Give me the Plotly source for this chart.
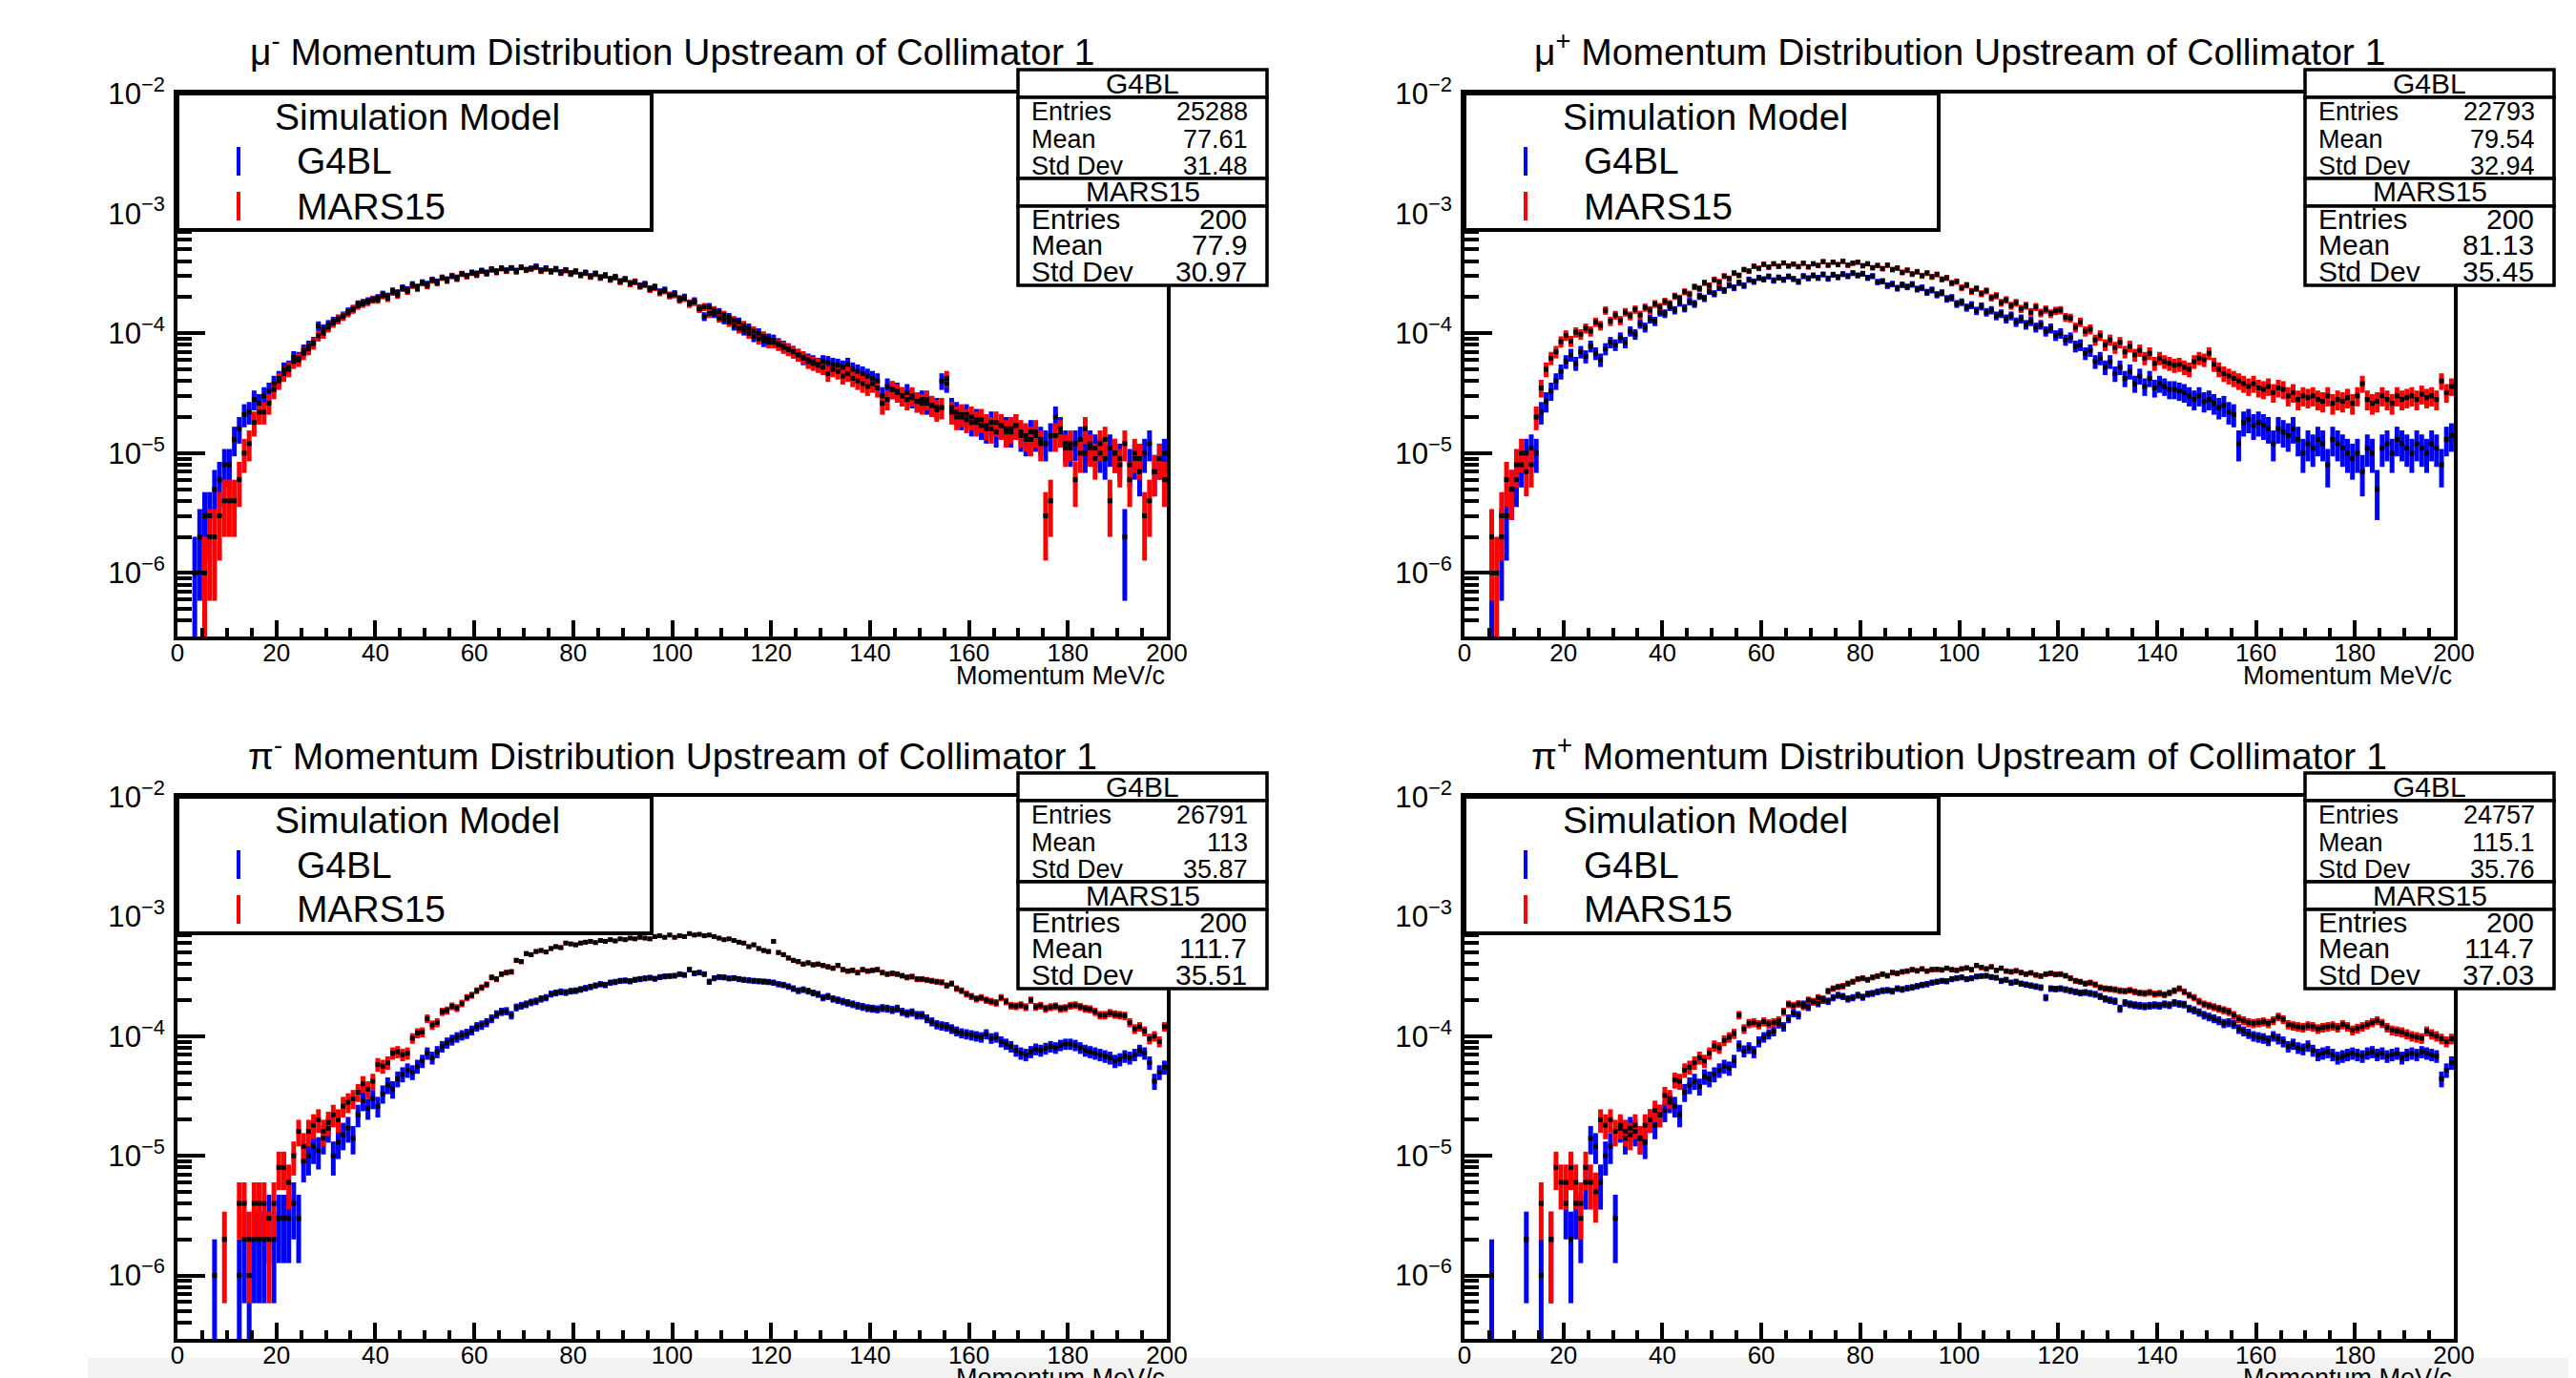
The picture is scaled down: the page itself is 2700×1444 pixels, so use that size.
import math
import plotly.graph_objects as go

# ---------------- data (bin contents in units of 1e-6, bins of 1 MeV/c from 0 to 200) ----------------
BIN_CENTERS = [i + 0.5 for i in range(200)]
UNIT = 1e-6
COUNT_WEIGHT = 1.0  # weight of one entry in the same units (Poisson errors)

MU_MINUS_G4BL = [
    0, 0, 0, 1, 2, 3, 3, 5, 6, 8, 8, 13, 16, 21, 22, 28, 26, 30, 33, 38,
    42, 50, 52, 63, 62, 72, 78, 84, 115, 108, 118, 126, 132, 140, 152, 160, 175, 180, 186, 192,
    198, 212, 204, 226, 218, 240, 232, 256, 244, 266, 258, 280, 270, 292, 282, 300, 292, 314, 302, 322,
    316, 334, 322, 344, 330, 350, 336, 352, 334, 356, 340, 348, 362, 336, 350, 330, 346, 324, 338, 318,
    330, 308, 322, 300, 316, 294, 306, 284, 296, 272, 284, 262, 270, 250, 258, 236, 244, 222, 230, 208,
    214, 194, 200, 178, 186, 162, 138, 166, 146, 150, 130, 136, 116, 124, 106, 110, 94, 100, 86, 90,
    88, 82, 78, 74, 70, 66, 62, 60, 58, 55, 58, 57, 55, 54, 52, 55, 50, 48, 46, 44,
    42, 40, 30, 36, 34, 33, 30, 32, 29, 27, 28, 26, 25, 24, 40, 38, 24, 22, 20, 21,
    18, 19, 17, 16, 18, 15, 17, 16, 15, 17, 14, 13, 15, 14, 13, 12, 14, 20, 16, 12,
    11, 12, 13, 10, 12, 11, 10, 9, 11, 10, 9, 2, 8, 9, 7, 10, 12, 7, 9, 10,
]
MU_MINUS_MARS = [
    0, 0, 0, 0, 0, 1, 2, 2, 3, 4, 4, 4, 6, 10, 12, 18, 22, 22, 26, 34,
    40, 46, 50, 58, 60, 68, 74, 82, 95, 100, 112, 122, 130, 138, 148, 158, 170, 176, 182, 190,
    190, 206, 196, 220, 208, 236, 224, 250, 236, 262, 248, 276, 262, 290, 274, 302, 284, 312, 298, 318,
    306, 330, 314, 338, 322, 346, 330, 350, 326, 354, 336, 344, 356, 330, 344, 326, 340, 318, 334, 312,
    326, 304, 318, 296, 312, 290, 302, 280, 292, 268, 282, 258, 268, 246, 254, 232, 240, 218, 226, 206,
    210, 190, 196, 176, 182, 160, 166, 146, 156, 134, 142, 124, 128, 110, 116, 100, 104, 90, 94, 84,
    84, 80, 76, 73, 70, 66, 63, 58, 56, 54, 52, 46, 50, 48, 44, 46, 42, 40, 38, 36,
    38, 35, 26, 28, 34, 32, 30, 28, 30, 27, 26, 28, 25, 23, 24, 42, 22, 20, 21, 19,
    20, 18, 19, 17, 16, 18, 17, 15, 16, 17, 15, 14, 13, 15, 12, 3, 4, 14, 15, 11,
    12, 6, 10, 16, 11, 9, 12, 13, 4, 10, 8, 12, 6, 10, 9, 3, 4, 7, 9, 6,
]
MU_PLUS_G4BL = [
    0, 0, 0, 0, 0, 1, 0, 2, 3, 5, 6, 8, 10, 11, 10, 22, 27, 33, 40, 48,
    58, 66, 56, 70, 64, 78, 68, 60, 74, 84, 80, 92, 84, 104, 98, 120, 112, 132, 126, 150,
    146, 166, 156, 180, 162, 184, 176, 204, 196, 224, 214, 240, 228, 252, 240, 264, 250, 280, 270, 290,
    282, 298, 276, 292, 280, 298, 284, 270, 300, 288, 304, 290, 310, 286, 308, 294, 312, 300, 318, 304,
    314, 290, 300, 268, 272, 250, 258, 238, 254, 244, 256, 234, 240, 220, 230, 210, 218, 194, 198, 176,
    182, 164, 172, 154, 168, 150, 156, 140, 146, 132, 140, 124, 132, 118, 126, 112, 118, 104, 110, 96,
    100, 88, 92, 78, 80, 68, 72, 58, 62, 52, 58, 46, 52, 42, 48, 38, 44, 36, 42, 35,
    38, 36, 34, 34, 33, 32, 30, 28, 30, 27, 28, 26, 24, 25, 22, 21, 12, 18, 19, 17,
    18, 17, 16, 12, 16, 15, 14, 16, 13, 10, 12, 11, 13, 12, 8, 13, 12, 11, 10, 9,
    10, 7, 11, 10, 5, 11, 12, 10, 13, 12, 11, 10, 12, 11, 10, 12, 11, 8, 13, 14,
]
MU_PLUS_MARS = [
    0, 0, 0, 0, 0, 2, 1, 3, 6, 5, 8, 10, 7, 8, 20, 35, 50, 62, 70, 85,
    96, 86, 102, 98, 110, 104, 124, 116, 155, 126, 142, 128, 150, 140, 158, 142, 164, 156, 176, 166,
    184, 176, 204, 196, 222, 212, 244, 236, 264, 250, 280, 268, 300, 286, 318, 304, 340, 330, 362, 348,
    376, 356, 380, 362, 386, 364, 378, 360, 384, 358, 380, 368, 396, 370, 392, 374, 398, 370, 384, 392,
    366, 380, 352, 368, 346, 370, 340, 350, 322, 336, 312, 326, 302, 318, 296, 310, 282, 290, 262, 270,
    240, 252, 224, 236, 214, 226, 198, 206, 180, 190, 170, 180, 160, 170, 150, 166, 148, 158, 146, 154,
    156, 136, 134, 112, 124, 104, 108, 88, 96, 80, 88, 76, 84, 70, 78, 66, 72, 62, 68, 56,
    62, 58, 56, 54, 55, 52, 50, 58, 62, 60, 68, 55, 50, 46, 44, 42, 40, 38, 36, 38,
    35, 34, 36, 32, 35, 34, 30, 32, 28, 30, 29, 30, 28, 27, 30, 26, 28, 27, 29, 26,
    30, 38, 28, 26, 27, 30, 28, 26, 30, 28, 29, 30, 28, 31, 29, 30, 28, 40, 32, 36,
]
PI_MINUS_G4BL = [
    0, 0, 0, 0, 0, 0, 0, 1, 0, 0, 0, 0, 1, 2, 1, 2, 2, 2, 3, 2,
    3, 3, 3, 4, 3, 9, 10, 12, 11, 14, 17, 10, 13, 15, 17, 14, 22, 29, 25, 30,
    26, 33, 39, 36, 44, 48, 52, 50, 56, 62, 72, 66, 74, 82, 88, 93, 98, 102, 105, 112,
    120, 124, 130, 140, 152, 160, 162, 150, 174, 180, 185, 192, 196, 205, 210, 225, 230, 235, 232, 238,
    240, 246, 252, 258, 265, 272, 268, 280, 284, 290, 292, 288, 296, 300, 304, 308, 302, 312, 316, 318,
    320, 330, 325, 360, 335, 340, 330, 285, 305, 312, 310, 304, 306, 300, 296, 293, 290, 288, 286, 284,
    280, 272, 268, 260, 250, 240, 245, 238, 230, 224, 210, 215, 205, 200, 195, 190, 185, 180, 176, 172,
    170, 168, 172, 170, 166, 170, 160, 155, 158, 150, 150, 140, 132, 125, 122, 120, 115, 110, 106, 104,
    102, 100, 98, 104, 96, 98, 90, 86, 82, 76, 72, 70, 74, 78, 76, 79, 82, 80, 84, 86,
    86, 84, 80, 76, 74, 72, 70, 68, 66, 62, 64, 68, 66, 70, 76, 72, 60, 42, 50, 55,
]
PI_MINUS_MARS = [
    0, 0, 0, 0, 0, 0, 0, 0, 0, 2, 0, 0, 4, 4, 2, 4, 4, 4, 2, 4,
    8, 8, 6, 10, 16, 12, 16, 18, 20, 16, 19, 22, 20, 26, 28, 30, 34, 40, 36, 42,
    58, 56, 60, 72, 74, 70, 72, 96, 106, 108, 140, 124, 130, 160, 164, 178, 172, 188, 210, 220,
    240, 255, 270, 310, 300, 330, 340, 345, 430, 420, 490, 480, 510, 520, 505, 540, 560, 550, 600, 590,
    580, 600, 610, 620, 605, 630, 620, 640, 625, 650, 640, 660, 650, 670, 660, 650, 680, 690, 670, 700,
    670, 690, 680, 720, 700, 710, 690, 700, 680, 660, 640, 650, 630, 610, 600, 560, 580, 540, 520, 510,
    620, 500, 480, 450, 430, 420, 400, 410, 395, 400, 390, 380, 370, 390, 360, 350, 355, 340, 360, 350,
    355, 360, 340, 330, 335, 330, 320, 310, 315, 300, 300, 295, 290, 285, 282, 265, 275, 250, 240, 225,
    215, 205, 210, 200, 195, 190, 210, 195, 180, 178, 182, 175, 200, 176, 180, 170, 175, 178, 170, 172,
    180, 182, 176, 170, 168, 160, 150, 150, 156, 152, 150, 148, 130, 115, 120, 110, 95, 100, 90, 120,
]
PI_PLUS_G4BL = [
    0, 0, 0, 0, 0, 1, 0, 0, 0, 0, 0, 0, 2, 0, 0, 1, 0, 2, 0, 0,
    4, 2, 4, 3, 6, 14, 12, 6, 10, 12, 3, 17, 14, 17, 16, 14, 13, 20, 18, 22,
    24, 28, 26, 22, 34, 39, 42, 38, 46, 44, 48, 52, 56, 54, 62, 83, 75, 80, 74, 90,
    98, 104, 110, 127, 120, 140, 156, 150, 185, 175, 194, 188, 200, 196, 210, 220, 215, 205, 210, 220,
    212, 225, 228, 235, 240, 242, 238, 250, 246, 252, 256, 262, 268, 272, 280, 285, 290, 288, 300, 305,
    310, 300, 305, 315, 318, 320, 312, 308, 290, 296, 280, 285, 275, 270, 265, 260, 255, 210, 250, 248,
    250, 245, 240, 235, 230, 232, 228, 224, 215, 205, 200, 196, 170, 190, 185, 182, 180, 178, 180, 182,
    180, 185, 182, 190, 186, 184, 170, 165, 158, 150, 145, 140, 135, 128, 130, 126, 115, 110, 105, 100,
    98, 96, 92, 100, 95, 90, 82, 86, 80, 78, 83, 76, 70, 72, 74, 70, 66, 68, 70, 72,
    70, 68, 72, 74, 70, 72, 68, 70, 72, 66, 70, 72, 70, 74, 72, 70, 68, 44, 52, 60,
]
PI_PLUS_MARS = [
    0, 0, 0, 0, 0, 0, 0, 0, 0, 0, 0, 0, 0, 0, 0, 4, 0, 2, 8, 6,
    6, 8, 6, 4, 8, 6, 5, 20, 18, 20, 16, 18, 16, 15, 18, 14, 18, 20, 24, 22,
    32, 30, 43, 42, 52, 55, 60, 66, 62, 72, 83, 80, 92, 98, 105, 150, 115, 128, 130, 125,
    132, 127, 130, 135, 160, 185, 180, 186, 178, 200, 195, 210, 205, 238, 250, 258, 262, 275, 285, 300,
    305, 296, 310, 318, 330, 320, 340, 335, 345, 350, 360, 352, 365, 350, 360, 362, 358, 370, 360, 355,
    365, 372, 360, 390, 375, 365, 380, 355, 370, 350, 345, 352, 340, 330, 338, 325, 318, 330, 335, 328,
    330, 320, 305, 290, 285, 275, 280, 270, 255, 250, 248, 245, 240, 238, 242, 235, 230, 228, 232, 225,
    228, 222, 230, 240, 250, 235, 220, 210, 195, 185, 180, 175, 170, 165, 160, 150, 140, 135, 130, 128,
    130, 132, 128, 135, 145, 138, 125, 122, 120, 118, 122, 120, 115, 118, 120, 122, 118, 125, 120, 112,
    116, 120, 125, 130, 135, 128, 118, 112, 110, 108, 104, 100, 98, 96, 110, 104, 100, 95, 90, 95,
]

TITLES = [
    "μ<sup>-</sup> Momentum Distribution Upstream of Collimator 1",
    "μ<sup>+</sup> Momentum Distribution Upstream of Collimator 1",
    "π<sup>-</sup> Momentum Distribution Upstream of Collimator 1",
    "π<sup>+</sup> Momentum Distribution Upstream of Collimator 1",
]
G4BL_STATS = [("25288", "77.61", "31.48"), ("22793", "79.54", "32.94"),
              ("26791", "113", "35.87"), ("24757", "115.1", "35.76")]
MARS_STATS = [("200", "77.9", "30.97"), ("200", "81.13", "35.45"),
              ("200", "111.7", "35.51"), ("200", "114.7", "37.03")]
SERIES = [(MU_MINUS_G4BL, MU_MINUS_MARS), (MU_PLUS_G4BL, MU_PLUS_MARS),
          (PI_MINUS_G4BL, PI_MINUS_MARS), (PI_PLUS_G4BL, PI_PLUS_MARS)]
X_TITLE = "Momentum MeV/c"
MODEL_NAMES = ["G4BL", "MARS15"]
LEGEND_TITLE = "Simulation Model"

# ---------------- layout geometry (page pixels) ----------------
OFF = 8                      # the page body margin shifts the figure by this much
W, H = 2700 - OFF, 1444 - OFF
FRAMES = [(186, 1223, 98, 667), (1535, 2572, 98, 667),
          (186, 1223, 835, 1403), (1535, 2572, 835, 1403)]
FONT = "Liberation Sans, Arial, Helvetica, sans-serif"
BLUE, RED = "#0000ff", "#ff0000"


def px(x):
    return (x - OFF) / W


def py(y):
    return 1 - (y - OFF) / H


def ys(vals):
    return [v * UNIT if v > 0 else None for v in vals]


def err_plus(vals):
    return [math.sqrt(v * COUNT_WEIGHT) * UNIT if v > 0 else 0 for v in vals]


def err_minus(vals):
    out = []
    for v in vals:
        if v <= 0:
            out.append(0)
        else:
            e = math.sqrt(v * COUNT_WEIGHT)
            out.append(min(e, v * 0.9999) * UNIT)
    return out


fig = go.Figure()
shapes, annotations = [], []

for i, ((g4, mars), (x0, x1, yt, yb)) in enumerate(zip(SERIES, FRAMES)):
    n = i + 1
    xa = "x" if n == 1 else f"x{n}"
    ya = "y" if n == 1 else f"y{n}"
    # error bars first (blue then red), markers on top
    for vals, col in ((g4, BLUE), (mars, RED)):
        fig.add_trace(go.Scatter(
            x=BIN_CENTERS, y=ys(vals), mode="markers", xaxis=xa, yaxis=ya,
            marker=dict(size=1, color="rgba(0,0,0,0)"),
            error_y=dict(type="data", symmetric=False, array=err_plus(vals),
                         arrayminus=err_minus(vals), color=col, thickness=5, width=0),
            showlegend=False, hoverinfo="skip"))
    for vals in (g4, mars):
        fig.add_trace(go.Scatter(
            x=BIN_CENTERS, y=ys(vals), mode="markers", xaxis=xa, yaxis=ya,
            marker=dict(symbol="square", size=5, color="black", line=dict(width=0)),
            showlegend=False, hoverinfo="skip"))

    axis_common = dict(showgrid=False, zeroline=False, showline=True, linewidth=4,
                       linecolor="black", mirror=True, ticks="inside", tickcolor="black",
                       tickwidth=4, automargin=False,
                       tickfont=dict(family=FONT, size=26, color="black"))
    fig.layout[f"xaxis{'' if n == 1 else n}"] = dict(
        domain=[px(x0), px(x1)], anchor=ya, range=[0, 200], dtick=20, tick0=0,
        ticklen=17, ticklabelstandoff=-9,
        minor=dict(ticks="inside", dtick=5, ticklen=9, tickwidth=4, tickcolor="black"),
        **axis_common)
    axis_common["tickfont"] = dict(family=FONT, size=25, color="black")
    fig.layout[f"yaxis{'' if n == 1 else n}"] = dict(
        domain=[py(yb), py(yt)], anchor=xa, type="log", range=[-6.53, -2], dtick=1,
        exponentformat="power", ticklen=29, ticklabelstandoff=4,
        minor=dict(ticks="inside", dtick="D1", ticklen=15, tickwidth=4, tickcolor="black"),
        **axis_common)

    # title
    annotations.append(dict(text=TITLES[i], x=px((x0 + x1) / 2), y=py(yt - 46),
                            xref="paper", yref="paper", showarrow=False,
                            xanchor="center", yanchor="middle",
                            font=dict(family=FONT, size=39, color="black")))
    # x-axis title
    annotations.append(dict(text=X_TITLE, x=px(x1), y=py(yb + 41), xref="paper", yref="paper",
                            showarrow=False, xanchor="right", yanchor="middle",
                            font=dict(family=FONT, size=27, color="black")))

    # legend box
    L, T = x0, yt
    shapes.append(dict(type="rect", xref="paper", yref="paper", x0=px(L), x1=px(L + 497),
                       y0=py(T + 143), y1=py(T), line=dict(color="black", width=4),
                       fillcolor="white", layer="above"))
    annotations.append(dict(text=LEGEND_TITLE, x=px(L + 252), y=py(T + 24), xref="paper", yref="paper",
                            showarrow=False, xanchor="center", yanchor="middle",
                            font=dict(family=FONT, size=39, color="black")))
    for k, (name, col) in enumerate(zip(MODEL_NAMES, (BLUE, RED))):
        yc = T + 71 + k * 47
        shapes.append(dict(type="line", xref="paper", yref="paper", x0=px(L + 64), x1=px(L + 64),
                           y0=py(yc - 15), y1=py(yc + 15), line=dict(color=col, width=4), layer="above"))
        annotations.append(dict(text=name, x=px(L + 123), y=py(yc), xref="paper", yref="paper",
                                showarrow=False, xanchor="left", yanchor="middle",
                                font=dict(family=FONT, size=39, color="black")))

    # stats boxes
    R = x1
    bx0, bx1 = R - 156, R + 105
    rows = [(T - 25, T + 4), (T + 4, T + 89), (T + 89, T + 118), (T + 118, T + 201)]
    for (r0, r1) in rows:
        shapes.append(dict(type="rect", xref="paper", yref="paper", x0=px(bx0), x1=px(bx1),
                           y0=py(r1), y1=py(r0), line=dict(color="black", width=3.5),
                           fillcolor="white", layer="above"))
    annotations.append(dict(text=MODEL_NAMES[0], x=px((bx0 + bx1) / 2), y=py(T - 11),
                            xref="paper", yref="paper", showarrow=False, xanchor="center",
                            yanchor="middle", font=dict(family=FONT, size=30, color="black")))
    annotations.append(dict(text=MODEL_NAMES[1], x=px((bx0 + bx1) / 2), y=py(T + 103),
                            xref="paper", yref="paper", showarrow=False, xanchor="center",
                            yanchor="middle", font=dict(family=FONT, size=30, color="black")))
    labels = ["Entries", "Mean", "Std Dev"]
    for k, (lab, val) in enumerate(zip(labels, G4BL_STATS[i])):
        yc = T + 19 + k * 28.5
        annotations.append(dict(text=lab, x=px(bx0 + 12), y=py(yc), xref="paper", yref="paper",
                                showarrow=False, xanchor="left", yanchor="middle",
                                font=dict(family=FONT, size=27, color="black")))
        annotations.append(dict(text=val, x=px(bx1 - 18), y=py(yc), xref="paper", yref="paper",
                                showarrow=False, xanchor="right", yanchor="middle",
                                font=dict(family=FONT, size=27, color="black")))
    for k, (lab, val) in enumerate(zip(labels, MARS_STATS[i])):
        yc = T + 131 + k * 27.5
        annotations.append(dict(text=lab, x=px(bx0 + 12), y=py(yc), xref="paper", yref="paper",
                                showarrow=False, xanchor="left", yanchor="middle",
                                font=dict(family=FONT, size=30, color="black")))
        annotations.append(dict(text=val, x=px(bx1 - 19), y=py(yc), xref="paper", yref="paper",
                                showarrow=False, xanchor="right", yanchor="middle",
                                font=dict(family=FONT, size=30, color="black")))

# light grey strip at the very bottom of the page
shapes.append(dict(type="rect", xref="paper", yref="paper", x0=px(92), x1=1, y0=0, y1=py(1423),
                   line=dict(width=0), fillcolor="#f2f2f2", layer="below"))

fig.update_layout(template="none", width=W, height=H, margin=dict(l=0, r=0, t=0, b=0, pad=0),
                  paper_bgcolor="white", plot_bgcolor="rgba(0,0,0,0)",
                  shapes=shapes, annotations=annotations, showlegend=False,
                  font=dict(family=FONT, color="black"))
fig.write_html("out.html")
